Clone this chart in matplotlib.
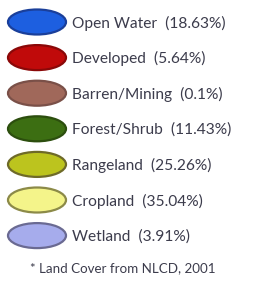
import matplotlib
matplotlib.use("Agg")
from matplotlib import pyplot as plt
from matplotlib.patches import Ellipse

# legend entries
names = ["Open Water", "Developed", "Barren/Mining", "Forest/Shrub",
         "Rangeland", "Cropland", "Wetland"]
shares = ["18.63%", "5.64%", "0.1%", "11.43%", "25.26%", "35.04%", "3.91%"]
fills = ["#1d5fe0", "#c00a0a", "#a0685a", "#3c6e12", "#bcc41e", "#f4f48a", "#a6acec"]
edges = ["#1a3f9a", "#8a0808", "#7a5048", "#2c4e0e", "#6e6a28", "#8c8a48", "#6a6a92"]
note = "* Land Cover from NLCD, 2001"

fig = plt.figure(figsize=(2.71, 2.86), dpi=100)
ax = fig.add_axes([0, 0, 1, 1])
ax.set_xlim(0, 271)
ax.set_ylim(286, 0)
ax.axis('off')

y0 = 22
step = 35.6
for i, (n, s) in enumerate(zip(names, shares)):
    y = y0 + i * step
    ax.add_patch(Ellipse((37, y), 58, 25, facecolor=fills[i],
                         edgecolor=edges[i], lw=1.6))
    ax.text(72, y + 1, "{}  ({})".format(n, s), fontsize=11.2,
            family='Lato', color='#3c3c4c', va='center', ha='left')
ax.text(30, 268, note, fontsize=9.6, family='Lato', color='#3c3c4c',
        va='center', ha='left')

fig.savefig("out.png", dpi=100)
